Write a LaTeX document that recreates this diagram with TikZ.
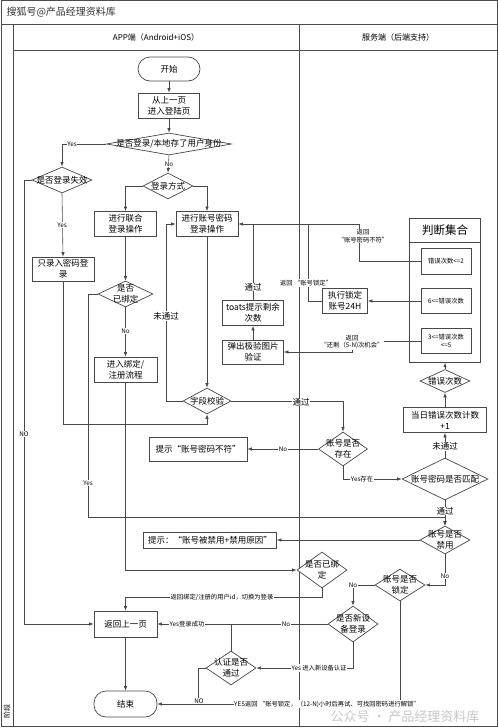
\documentclass[tikz,border=0pt]{standalone}
\usepackage{fontspec}
\setmainfont{Noto Sans CJK SC}
\usetikzlibrary{shapes.geometric,arrows.meta}
\begin{document}
\begin{tikzpicture}[x=1pt,y=-1pt,
  ln/.style={draw=black!72, line width=0.6pt},
  arr/.style={ln, -{Latex[length=4.5pt,width=3.4pt]}},
  frame/.style={draw=black!70, line width=0.8pt},
  box/.style={draw=black!72, line width=0.7pt, fill=white, inner sep=0pt, align=center, font=\fontsize{8.5}{11}\selectfont},
  sbox/.style={box, font=\fontsize{6.3}{8.5}\selectfont},
  stad/.style={box, rounded corners=12pt},
  dia/.style={draw=black!72, line width=0.7pt, fill=white, diamond, inner sep=0pt},
  dtxt/.style={align=center, font=\fontsize{8.5}{11}\selectfont, inner sep=0pt},
  elab/.style={fill=white, inner sep=0.6pt, align=center, font=\fontsize{6.3}{7.5}\selectfont},
  mlab/.style={fill=white, inner sep=0.6pt, font=\fontsize{8.5}{10}\selectfont},
  hdr/.style={font=\fontsize{8}{10}\selectfont}
]
\useasboundingbox (0,0) rectangle (498,728);
% frame
\draw[frame] (1,0.5) rectangle (497,726.5);
\draw[frame] (1,24) -- (497,24);
\draw[frame] (13,24) -- (13,726.5);
\draw[frame] (13,50) -- (497,50);
\draw[frame] (299,24) -- (299,726.5);
\node[hdr] (h1) at (156,37) {APP端（Android+iOS）};
\node[hdr] (h2) at (398,37) {服务端（后端支持）};
\node[rotate=90, font=\fontsize{7}{8}\selectfont] (stage) at (7,711) {阶段};
\node[anchor=west, font=\fontsize{10}{12}\selectfont, text=black!80] (wm1) at (3,12) {搜狐号@产品经理资料库};
\node[font=\fontsize{13}{15}\selectfont, text=black!22] (wm2) at (405,717) {公众号 · 产品经理资料库};

% APP lane nodes
\node[stad, minimum width=62pt, minimum height=24pt] (start) at (169,69) {开始};
\node[box, minimum width=61pt, minimum height=25pt] (prev) at (169,105.5) {从上一页\\进入登陆页};
\node[dia, minimum width=125pt, minimum height=22pt] (d1) at (169,144) {};
\node[dtxt] (d1t) at (d1) {是否登录/本地存了用户身份};
\node[dia, minimum width=60pt, minimum height=26pt] (d2) at (62,180) {};
\node[dtxt] (d2t) at (d2) {是否登录失效};
\node[box, minimum width=62pt, minimum height=24pt] (pwonly) at (63,269) {只录入密码登\\录};
\node[dia, minimum width=50pt, minimum height=26pt] (dway) at (168,186) {};
\node[dtxt] (dwayt) at (dway) {登录方式};
\node[box, minimum width=62pt, minimum height=25pt] (union) at (125.5,224) {进行联合\\登录操作};
\node[box, minimum width=62pt, minimum height=25pt] (acct) at (207,224) {进行账号密码\\登录操作};
\node[dia, minimum width=55pt, minimum height=26pt] (dbound) at (125.5,294) {};
\node[dtxt] (dboundt) at (dbound) {是否\\已绑定};
\node[box, minimum width=63pt, minimum height=25pt] (bindreg) at (125.5,369.5) {进入绑定/\\注册流程};
\node[box, minimum width=63pt, minimum height=26pt] (back) at (125.5,624) {返回上一页};
\node[stad, minimum width=63pt, minimum height=26pt] (end) at (125.5,704) {结束};
\node[dia, minimum width=48pt, minimum height=26pt] (dfield) at (207,401) {};
\node[dtxt] (dfieldt) at (dfield) {字段校验};
\node[box, minimum width=98pt, minimum height=24pt] (tipmis) at (198,449) {提示“账号密码不符”};
\node[box, minimum width=61pt, minimum height=25pt] (toats) at (253,313) {toats提示剩余\\次数};
\node[box, minimum width=61pt, minimum height=24pt] (captcha) at (253,352) {弹出极验图片\\验证};
\node[box, minimum width=133pt, minimum height=16pt] (tipban) at (210,540) {提示：“账号被禁用+禁用原因”};
\node[dia, minimum width=50pt, minimum height=34pt] (dauth) at (231,668) {};
\node[dtxt] (dautht) at (dauth) {认证是否\\通过};

% server lane nodes
\node[box, minimum width=71pt, minimum height=144pt, anchor=north] (judge) at (445,218) {};
\node[box, minimum width=71pt, minimum height=24pt, anchor=north, font=\fontsize{11.5}{13}\selectfont] (jtitle) at (445,218) {判断集合};
\node[sbox, minimum width=50pt, minimum height=26pt] (e1) at (446,261) {错误次数<=2};
\node[sbox, minimum width=50pt, minimum height=25pt] (e2) at (446,301) {6<=错误次数};
\node[sbox, minimum width=50pt, minimum height=25pt] (e3) at (446,341) {3<=错误次数\\<=5};
\node[box, minimum width=45pt, minimum height=25pt] (lock) at (345,301) {执行锁定\\账号24H};
\node[dia, minimum width=50pt, minimum height=23pt] (derr) at (445,381) {};
\node[dtxt] (derrt) at (derr) {错误次数};
\node[box, minimum width=83pt, minimum height=25pt] (count) at (445,420) {当日错误次数计数\\+1};
\node[dia, minimum width=49pt, minimum height=34pt] (dexist) at (343,449) {};
\node[dtxt] (dexistt) at (dexist) {账号是否\\存在};
\node[dia, minimum width=86pt, minimum height=42pt] (dmatch) at (445,479) {};
\node[dtxt] (dmatcht) at (dmatch) {账号密码是否匹配};
\node[dia, minimum width=50pt, minimum height=28pt] (dban) at (445,540) {};
\node[dtxt] (dbant) at (dban) {账号是否\\禁用};
\node[dia, minimum width=50pt, minimum height=32pt] (dlock) at (400,585) {};
\node[dtxt] (dlockt) at (dlock) {账号是否\\锁定};
\node[dia, minimum width=50pt, minimum height=36pt] (dbound2) at (322,570) {};
\node[dtxt] (dbound2t) at (dbound2) {是否已绑\\定};
\node[dia, minimum width=50pt, minimum height=36pt] (dnew) at (353,624) {};
\node[dtxt] (dnewt) at (dnew) {是否新设\\备登录};

% connectors
\draw[arr] (start) -- (prev);
\draw[arr] (prev) -- (d1);
\draw[arr] (d1.west) -- (62,144) -- (d2.north);
\draw[arr] (d1.south) -- (dway.north);
\draw[arr] (dway.west) -| (union.north);
\draw[arr] (dway.east) -| (acct.north);
\draw[arr] (d2.south) -- (pwonly.north);
\draw[arr] (d2.west) -- (24,180) -- (24,624) -- (back.west);
\draw[arr] (pwonly.south) -- (63,424) -| (dfield.south);
\draw[arr] (union.south) -- (dbound.north);
\draw[arr] (dbound.south) -- (bindreg.north);
\draw[arr] (dbound.west) -- (88,294) -- (88,517) -| (dban.north);
\draw[arr] (bindreg.south) -- (125.5,570) -- (dbound2.west);
\draw[arr] (dbound2.south) -- (322,597) -| (back.north);
\draw[arr] (back) -- (end);
\draw[arr] (acct) -- (dfield);
\draw[arr] (dfield.west) -- (166,401) |- (acct.west);
\draw[arr] (dfield.east) -| (dexist.north);
\draw[arr] (dexist.west) -- (tipmis.east);
\draw[arr] (dexist.south) |- (dmatch.west);
\draw[arr] (dmatch) -- (count);
\draw[arr] (count) -- (derr);
\draw[arr] (derr) -- (judge.south);
\draw[arr] (e1.west) -- (359,261) |- (acct.east);
\draw[ln] (lock.west) -- (308,301) -- (308,224);
\draw[ln] (toats.north) -- (253,224);
\draw[arr] (e2.west) -- (lock.east);
\draw[arr] (e3.west) -- (352,341) -- (352,352) -- (captcha.east);
\draw[arr] (captcha) -- (toats);
\draw[arr] (dmatch) -- (dban);
\draw[arr] (dban.west) -- (tipban.east);
\draw[arr] (dban.south) |- (dlock.east);
\draw[arr] (dlock.west) -| (dnew.north);
\draw[arr] (dlock.south) |- (end.east);
\draw[arr] (dnew.west) -- (back.east);
\draw[ln] (dauth.north) -- (231,624);
\draw[arr] (dnew.south) |- (dauth.east);
\draw[ln] (dauth.west) -- (198,668) -- (198,704);

% labels
\node[elab] (l1) at (72,144) {Yes};
\node[elab] (l2) at (169,164) {No};
\node[elab] (l3) at (62,225) {Yes};
\node[elab] (l4) at (24,434) {NO};
\node[elab] (l5) at (88,483) {Yes};
\node[elab] (l6) at (125.5,331) {No};
\node[mlab] (l7) at (166,316) {未通过};
\node[mlab] (l8) at (301,402) {通过};
\node[elab] (l9) at (283,449) {No};
\node[elab] (l10) at (362,479) {Yes存在};
\node[mlab] (l11) at (445,446) {未通过};
\node[mlab] (l12) at (445,511) {通过};
\node[elab] (l13) at (363,236) {返回\\“账号密码不符”};
\node[elab] (l14) at (306,283) {返回 “账号锁定”};
\node[mlab] (l15) at (253,287) {通过};
\node[elab] (l16) at (352,342) {返回\\“还剩（5-N)次机会”};
\node[elab] (l17) at (445,576) {No};
\node[elab] (l18) at (353,585) {No};
\node[elab] (l19) at (222,597) {返回绑定/注册的用户id，切换为登录};
\node[elab] (l20) at (187,624) {Yes登录成功};
\node[elab] (l21) at (286,624) {No};
\node[elab] (l22) at (319,668) {Yes 进入新设备认证};
\node[elab] (l23) at (199,701) {NO};
\node[elab] (l24) at (327,704) {YES返回 “账号锁定，（12-N)小时后再试、可找回密码进行解锁”};
\end{tikzpicture}
\end{document}
